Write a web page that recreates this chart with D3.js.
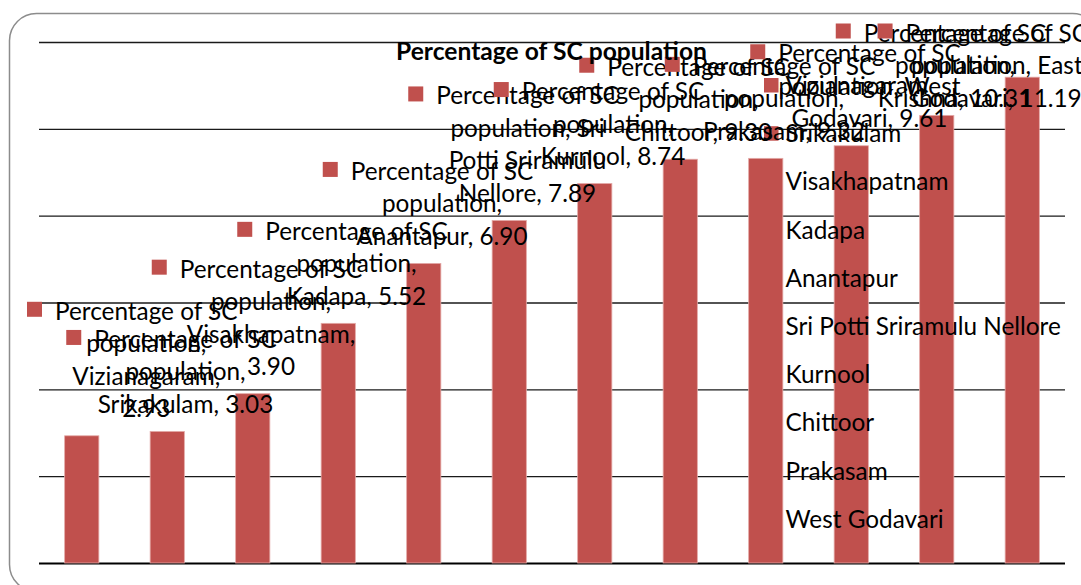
<!DOCTYPE html>
<html>
<head>
<meta charset="utf-8">
<script src="https://cdn.jsdelivr.net/npm/d3@7"></script>
<style>
  html, body { margin: 0; padding: 0; background: #fff; }
  svg { display: block; }
</style>
</head>
<body>
<svg id="chart" width="1081" height="585"></svg>
<script>
// ---------- data ----------
const chartTitle = "Percentage of SC population";
const seriesName = "Percentage of SC population";
const categories = ["Vizianagaram", "Srikakulam", "Visakhapatnam", "Kadapa", "Anantapur",
  "Sri Potti Sriramulu Nellore", "Kurnool", "Chittoor", "Prakasam", "West Godavari",
  "Krishna", "East Godavari"];
const values = [2.93, 3.03, 3.90, 5.52, 6.90, 7.89, 8.74, 9.30, 9.32, 9.61, 10.31, 11.19];
const yTicks = [0, 2, 4, 6, 8, 10, 12];

// ---------- setup ----------
const svg = d3.select("#chart");
const FONT = "Lato, Carlito, 'Open Sans', sans-serif";
const BAR = "#C0504D";

const meas = svg.append("text").attr("font-family", FONT).attr("x", -9999).attr("y", -9999);
function textW(str, size, weight) {
  meas.attr("font-size", size).attr("font-weight", weight || "normal").text(str);
  return meas.node().getComputedTextLength();
}
const fs = 100 * 182.6 / textW("Percentage of SC", 100);
const tfs = 100 * 311 / textW(chartTitle, 100, "bold");

// outer border
svg.append("rect")
  .attr("x", 9.5).attr("y", 13.5).attr("width", 1090).attr("height", 578)
  .attr("rx", 27).attr("ry", 27)
  .attr("fill", "#fff").attr("stroke", "#8c8c8c").attr("stroke-width", 1.5);

const plot = { left: 39, right: 1065, top: 42, bottom: 563 };
const x = d3.scaleBand().domain(categories).range([plot.left, plot.right])
  .paddingInner(0.6).paddingOuter(0.3);
const y = d3.scaleLinear().domain([0, 12]).range([plot.bottom, plot.top]);

// gridlines via axis
const grid = svg.append("g").attr("transform", `translate(${plot.left},0)`)
  .call(d3.axisLeft(y).tickValues(yTicks).tickSize(-(plot.right - plot.left)).tickFormat(""));
grid.select(".domain").remove();
grid.selectAll(".tick line").attr("stroke", "#1a1a1a").attr("stroke-width", 1.4);
grid.selectAll(".tick").filter(d => d === 0).select("line").attr("stroke", "#000").attr("stroke-width", 2.2);

// legend keys (sit behind the bars)
const legY0 = 85.5, legStep = 48.2;
const legendKeys = svg.append("g");
const legendText = [];
categories.forEach((c, i) => {
  const cy = legY0 + i * legStep;
  if (cy > 530) return;
  legendKeys.append("rect").attr("x", 764).attr("y", cy - 7.5).attr("width", 14.5).attr("height", 14.5).attr("fill", BAR);
  legendText.push({ c, cy });
});

// bars
svg.append("g").selectAll("rect").data(categories).join("rect")
  .attr("x", d => x(d)).attr("width", x.bandwidth())
  .attr("y", (d, i) => y(values[i])).attr("height", (d, i) => y(0) - y(values[i]))
  .attr("fill", BAR).attr("stroke", "#e3a9a7").attr("stroke-width", 0.8);

// legend text
const legend = svg.append("g");
legendText.forEach(({ c, cy }) => {
  legend.append("text").attr("x", 785.5).attr("y", cy).attr("dy", "0.35em")
    .attr("font-family", FONT).attr("font-size", fs).attr("fill", "#000").text(c);
});

// data labels
const lineH = 32.5;
const maxW = textW("Percentage of SC", fs) * 1.05;
const labels = svg.append("g");
categories.forEach((c, i) => {
  const words = (`${seriesName}, ${c}, ${values[i].toFixed(2)}`).split(" ");
  const lines = [];
  let cur = "";
  words.forEach(wd => {
    const test = cur ? cur + " " + wd : wd;
    if (cur && textW(test, fs) > maxW) { lines.push(cur); cur = wd; }
    else cur = test;
  });
  if (cur) lines.push(cur);
  const boxW = d3.max(lines, l => textW(l, fs));
  const cx = x(c) + x.bandwidth() / 2;
  let keyX = cx - 101;
  keyX = Math.max(keyX, 27);
  let textL = keyX + 28;
  if (textL + boxW > 1088) { textL = 1088 - boxW; keyX = textL - 28; }
  const tc = textL + boxW / 2;
  const last = y(values[i]) - 27;
  let first = last - (lines.length - 1) * lineH;
  if (first < 33) first = 33;
  labels.append("rect").attr("x", keyX).attr("y", first - 9.5)
    .attr("width", 15).attr("height", 15).attr("fill", BAR);
  lines.forEach((l, k) => {
    labels.append("text").attr("x", tc).attr("y", first + k * lineH).attr("dy", "0.35em")
      .attr("text-anchor", "middle").attr("font-family", FONT).attr("font-size", fs)
      .attr("fill", "#000").text(l);
  });
});
meas.remove();

// title
svg.append("text").attr("x", 551.5).attr("y", 51).attr("dy", "0.35em")
  .attr("text-anchor", "middle").attr("font-family", FONT).attr("font-weight", "bold")
  .attr("font-size", tfs).attr("fill", "#000").text(chartTitle);
</script>
</body>
</html>
